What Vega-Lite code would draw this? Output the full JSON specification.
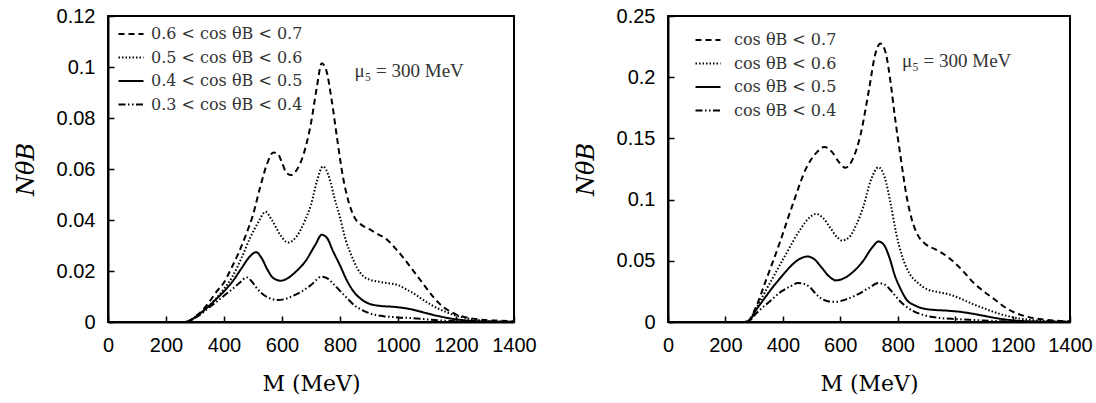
{
  "$schema": "https://vega.github.io/schema/vega-lite/v6.json",
  "background": "white",
  "padding": {"left": 13, "top": 5, "right": 0, "bottom": 0},
  "spacing": 35,
  "config": {
    "view": {"stroke": "black", "strokeWidth": 2},
    "axis": {
      "grid": false,
      "domainColor": "black",
      "domainWidth": 2,
      "tickColor": "black",
      "tickWidth": 1.5,
      "tickSize": -6,
      "labelFont": "Liberation Sans",
      "labelFontSize": 20,
      "labelColor": "black",
      "labelOverlap": false,
      "labelFlush": false,
      "labelExpr": "datum.value + ''",
      "titleColor": "black",
      "titleFont": "DejaVu Serif",
      "titleFontWeight": "normal"
    },
    "legend": {
      "symbolType": "stroke",
      "symbolSize": 625,
      "symbolStrokeWidth": 2.2,
      "symbolStrokeColor": "black",
      "labelFont": "DejaVu Serif",
      "labelFontSize": 16,
      "labelColor": "#333",
      "labelLimit": 400,
      "rowPadding": 1.5,
      "padding": 0
    }
  },
  "resolve": {"scale": {"strokeDash": "independent"}, "legend": {"strokeDash": "independent"}},
  "datasets": {
    "left": [
      {"s": "0.6 < cos θB < 0.7", "M": 0, "N": 0}, {"s": "0.6 < cos θB < 0.7", "M": 260, "N": 0}, {"s": "0.6 < cos θB < 0.7", "M": 280, "N": 0.0005}, {"s": "0.6 < cos θB < 0.7", "M": 300, "N": 0.002}, {"s": "0.6 < cos θB < 0.7", "M": 325, "N": 0.0045}, {"s": "0.6 < cos θB < 0.7", "M": 350, "N": 0.008}, {"s": "0.6 < cos θB < 0.7", "M": 375, "N": 0.012}, {"s": "0.6 < cos θB < 0.7", "M": 400, "N": 0.0155}, {"s": "0.6 < cos θB < 0.7", "M": 425, "N": 0.021}, {"s": "0.6 < cos θB < 0.7", "M": 450, "N": 0.027}, {"s": "0.6 < cos θB < 0.7", "M": 475, "N": 0.034}, {"s": "0.6 < cos θB < 0.7", "M": 500, "N": 0.042}, {"s": "0.6 < cos θB < 0.7", "M": 525, "N": 0.053}, {"s": "0.6 < cos θB < 0.7", "M": 550, "N": 0.0625}, {"s": "0.6 < cos θB < 0.7", "M": 570, "N": 0.0665}, {"s": "0.6 < cos θB < 0.7", "M": 585, "N": 0.066}, {"s": "0.6 < cos θB < 0.7", "M": 600, "N": 0.0625}, {"s": "0.6 < cos θB < 0.7", "M": 615, "N": 0.0585}, {"s": "0.6 < cos θB < 0.7", "M": 630, "N": 0.0576}, {"s": "0.6 < cos θB < 0.7", "M": 650, "N": 0.0595}, {"s": "0.6 < cos θB < 0.7", "M": 675, "N": 0.066}, {"s": "0.6 < cos θB < 0.7", "M": 700, "N": 0.078}, {"s": "0.6 < cos θB < 0.7", "M": 720, "N": 0.092}, {"s": "0.6 < cos θB < 0.7", "M": 737, "N": 0.1015}, {"s": "0.6 < cos θB < 0.7", "M": 752, "N": 0.099}, {"s": "0.6 < cos θB < 0.7", "M": 770, "N": 0.088}, {"s": "0.6 < cos θB < 0.7", "M": 790, "N": 0.072}, {"s": "0.6 < cos θB < 0.7", "M": 810, "N": 0.057}, {"s": "0.6 < cos θB < 0.7", "M": 830, "N": 0.047}, {"s": "0.6 < cos θB < 0.7", "M": 850, "N": 0.041}, {"s": "0.6 < cos θB < 0.7", "M": 875, "N": 0.038}, {"s": "0.6 < cos θB < 0.7", "M": 900, "N": 0.0365}, {"s": "0.6 < cos θB < 0.7", "M": 930, "N": 0.0345}, {"s": "0.6 < cos θB < 0.7", "M": 960, "N": 0.0325}, {"s": "0.6 < cos θB < 0.7", "M": 990, "N": 0.029}, {"s": "0.6 < cos θB < 0.7", "M": 1020, "N": 0.025}, {"s": "0.6 < cos θB < 0.7", "M": 1050, "N": 0.0205}, {"s": "0.6 < cos θB < 0.7", "M": 1080, "N": 0.016}, {"s": "0.6 < cos θB < 0.7", "M": 1110, "N": 0.0115}, {"s": "0.6 < cos θB < 0.7", "M": 1140, "N": 0.0075}, {"s": "0.6 < cos θB < 0.7", "M": 1170, "N": 0.0048}, {"s": "0.6 < cos θB < 0.7", "M": 1200, "N": 0.003}, {"s": "0.6 < cos θB < 0.7", "M": 1250, "N": 0.0015}, {"s": "0.6 < cos θB < 0.7", "M": 1300, "N": 0.0008}, {"s": "0.6 < cos θB < 0.7", "M": 1350, "N": 0.0005}, {"s": "0.6 < cos θB < 0.7", "M": 1400, "N": 0.0003},
      {"s": "0.5 < cos θB < 0.6", "M": 0, "N": 0}, {"s": "0.5 < cos θB < 0.6", "M": 260, "N": 0}, {"s": "0.5 < cos θB < 0.6", "M": 280, "N": 0.0005}, {"s": "0.5 < cos θB < 0.6", "M": 300, "N": 0.002}, {"s": "0.5 < cos θB < 0.6", "M": 325, "N": 0.004}, {"s": "0.5 < cos θB < 0.6", "M": 350, "N": 0.0065}, {"s": "0.5 < cos θB < 0.6", "M": 375, "N": 0.0095}, {"s": "0.5 < cos θB < 0.6", "M": 400, "N": 0.013}, {"s": "0.5 < cos θB < 0.6", "M": 430, "N": 0.018}, {"s": "0.5 < cos θB < 0.6", "M": 460, "N": 0.025}, {"s": "0.5 < cos θB < 0.6", "M": 490, "N": 0.033}, {"s": "0.5 < cos θB < 0.6", "M": 520, "N": 0.0395}, {"s": "0.5 < cos θB < 0.6", "M": 543, "N": 0.0432}, {"s": "0.5 < cos θB < 0.6", "M": 565, "N": 0.04}, {"s": "0.5 < cos θB < 0.6", "M": 595, "N": 0.034}, {"s": "0.5 < cos θB < 0.6", "M": 620, "N": 0.0312}, {"s": "0.5 < cos θB < 0.6", "M": 650, "N": 0.0335}, {"s": "0.5 < cos θB < 0.6", "M": 680, "N": 0.04}, {"s": "0.5 < cos θB < 0.6", "M": 700, "N": 0.046}, {"s": "0.5 < cos θB < 0.6", "M": 720, "N": 0.055}, {"s": "0.5 < cos θB < 0.6", "M": 741, "N": 0.061}, {"s": "0.5 < cos θB < 0.6", "M": 763, "N": 0.0566}, {"s": "0.5 < cos θB < 0.6", "M": 780, "N": 0.049}, {"s": "0.5 < cos θB < 0.6", "M": 800, "N": 0.041}, {"s": "0.5 < cos θB < 0.6", "M": 820, "N": 0.032}, {"s": "0.5 < cos θB < 0.6", "M": 840, "N": 0.026}, {"s": "0.5 < cos θB < 0.6", "M": 860, "N": 0.021}, {"s": "0.5 < cos θB < 0.6", "M": 880, "N": 0.018}, {"s": "0.5 < cos θB < 0.6", "M": 905, "N": 0.0165}, {"s": "0.5 < cos θB < 0.6", "M": 935, "N": 0.0158}, {"s": "0.5 < cos θB < 0.6", "M": 965, "N": 0.0152}, {"s": "0.5 < cos θB < 0.6", "M": 1000, "N": 0.0145}, {"s": "0.5 < cos θB < 0.6", "M": 1025, "N": 0.013}, {"s": "0.5 < cos θB < 0.6", "M": 1050, "N": 0.0115}, {"s": "0.5 < cos θB < 0.6", "M": 1080, "N": 0.0092}, {"s": "0.5 < cos θB < 0.6", "M": 1110, "N": 0.007}, {"s": "0.5 < cos θB < 0.6", "M": 1140, "N": 0.0052}, {"s": "0.5 < cos θB < 0.6", "M": 1170, "N": 0.0037}, {"s": "0.5 < cos θB < 0.6", "M": 1200, "N": 0.0025}, {"s": "0.5 < cos θB < 0.6", "M": 1250, "N": 0.0012}, {"s": "0.5 < cos θB < 0.6", "M": 1300, "N": 0.0005}, {"s": "0.5 < cos θB < 0.6", "M": 1350, "N": 0.0002}, {"s": "0.5 < cos θB < 0.6", "M": 1400, "N": 0.0001},
      {"s": "0.4 < cos θB < 0.5", "M": 0, "N": 0}, {"s": "0.4 < cos θB < 0.5", "M": 260, "N": 0}, {"s": "0.4 < cos θB < 0.5", "M": 280, "N": 0.0004}, {"s": "0.4 < cos θB < 0.5", "M": 300, "N": 0.0018}, {"s": "0.4 < cos θB < 0.5", "M": 325, "N": 0.004}, {"s": "0.4 < cos θB < 0.5", "M": 350, "N": 0.0065}, {"s": "0.4 < cos θB < 0.5", "M": 375, "N": 0.0092}, {"s": "0.4 < cos θB < 0.5", "M": 400, "N": 0.012}, {"s": "0.4 < cos θB < 0.5", "M": 430, "N": 0.016}, {"s": "0.4 < cos θB < 0.5", "M": 460, "N": 0.021}, {"s": "0.4 < cos θB < 0.5", "M": 490, "N": 0.0258}, {"s": "0.4 < cos θB < 0.5", "M": 511, "N": 0.0274}, {"s": "0.4 < cos θB < 0.5", "M": 530, "N": 0.025}, {"s": "0.4 < cos θB < 0.5", "M": 550, "N": 0.0205}, {"s": "0.4 < cos θB < 0.5", "M": 570, "N": 0.0172}, {"s": "0.4 < cos θB < 0.5", "M": 596, "N": 0.0162}, {"s": "0.4 < cos θB < 0.5", "M": 620, "N": 0.0172}, {"s": "0.4 < cos θB < 0.5", "M": 650, "N": 0.02}, {"s": "0.4 < cos θB < 0.5", "M": 680, "N": 0.0237}, {"s": "0.4 < cos θB < 0.5", "M": 715, "N": 0.0303}, {"s": "0.4 < cos θB < 0.5", "M": 737, "N": 0.0342}, {"s": "0.4 < cos θB < 0.5", "M": 755, "N": 0.033}, {"s": "0.4 < cos θB < 0.5", "M": 775, "N": 0.028}, {"s": "0.4 < cos θB < 0.5", "M": 800, "N": 0.0222}, {"s": "0.4 < cos θB < 0.5", "M": 825, "N": 0.016}, {"s": "0.4 < cos θB < 0.5", "M": 850, "N": 0.0115}, {"s": "0.4 < cos θB < 0.5", "M": 875, "N": 0.0088}, {"s": "0.4 < cos θB < 0.5", "M": 900, "N": 0.0072}, {"s": "0.4 < cos θB < 0.5", "M": 940, "N": 0.0063}, {"s": "0.4 < cos θB < 0.5", "M": 980, "N": 0.006}, {"s": "0.4 < cos θB < 0.5", "M": 1020, "N": 0.0055}, {"s": "0.4 < cos θB < 0.5", "M": 1060, "N": 0.0046}, {"s": "0.4 < cos θB < 0.5", "M": 1100, "N": 0.0034}, {"s": "0.4 < cos θB < 0.5", "M": 1140, "N": 0.0023}, {"s": "0.4 < cos θB < 0.5", "M": 1180, "N": 0.0014}, {"s": "0.4 < cos θB < 0.5", "M": 1220, "N": 0.0008}, {"s": "0.4 < cos θB < 0.5", "M": 1260, "N": 0.0004}, {"s": "0.4 < cos θB < 0.5", "M": 1300, "N": 0.0002}, {"s": "0.4 < cos θB < 0.5", "M": 1400, "N": 0.0001},
      {"s": "0.3 < cos θB < 0.4", "M": 0, "N": 0}, {"s": "0.3 < cos θB < 0.4", "M": 260, "N": 0}, {"s": "0.3 < cos θB < 0.4", "M": 280, "N": 0.0004}, {"s": "0.3 < cos θB < 0.4", "M": 300, "N": 0.0016}, {"s": "0.3 < cos θB < 0.4", "M": 325, "N": 0.0035}, {"s": "0.3 < cos θB < 0.4", "M": 350, "N": 0.0058}, {"s": "0.3 < cos θB < 0.4", "M": 375, "N": 0.008}, {"s": "0.3 < cos θB < 0.4", "M": 400, "N": 0.0103}, {"s": "0.3 < cos θB < 0.4", "M": 430, "N": 0.013}, {"s": "0.3 < cos θB < 0.4", "M": 455, "N": 0.0155}, {"s": "0.3 < cos θB < 0.4", "M": 478, "N": 0.0175}, {"s": "0.3 < cos θB < 0.4", "M": 495, "N": 0.016}, {"s": "0.3 < cos θB < 0.4", "M": 515, "N": 0.013}, {"s": "0.3 < cos θB < 0.4", "M": 540, "N": 0.0104}, {"s": "0.3 < cos θB < 0.4", "M": 565, "N": 0.009}, {"s": "0.3 < cos θB < 0.4", "M": 585, "N": 0.0086}, {"s": "0.3 < cos θB < 0.4", "M": 610, "N": 0.009}, {"s": "0.3 < cos θB < 0.4", "M": 635, "N": 0.0101}, {"s": "0.3 < cos θB < 0.4", "M": 665, "N": 0.0118}, {"s": "0.3 < cos θB < 0.4", "M": 700, "N": 0.0145}, {"s": "0.3 < cos θB < 0.4", "M": 737, "N": 0.0178}, {"s": "0.3 < cos θB < 0.4", "M": 755, "N": 0.0172}, {"s": "0.3 < cos θB < 0.4", "M": 775, "N": 0.0152}, {"s": "0.3 < cos θB < 0.4", "M": 800, "N": 0.0122}, {"s": "0.3 < cos θB < 0.4", "M": 825, "N": 0.0093}, {"s": "0.3 < cos θB < 0.4", "M": 850, "N": 0.0065}, {"s": "0.3 < cos θB < 0.4", "M": 880, "N": 0.0045}, {"s": "0.3 < cos θB < 0.4", "M": 910, "N": 0.0031}, {"s": "0.3 < cos θB < 0.4", "M": 950, "N": 0.0023}, {"s": "0.3 < cos θB < 0.4", "M": 1000, "N": 0.0018}, {"s": "0.3 < cos θB < 0.4", "M": 1050, "N": 0.0015}, {"s": "0.3 < cos θB < 0.4", "M": 1100, "N": 0.001}, {"s": "0.3 < cos θB < 0.4", "M": 1150, "N": 0.0006}, {"s": "0.3 < cos θB < 0.4", "M": 1200, "N": 0.0003}, {"s": "0.3 < cos θB < 0.4", "M": 1250, "N": 0.0001}, {"s": "0.3 < cos θB < 0.4", "M": 1400, "N": 0}
    ],
    "right": [
      {"s": "cos θB < 0.7", "M": 0, "N": 0}, {"s": "cos θB < 0.7", "M": 260, "N": 0}, {"s": "cos θB < 0.7", "M": 280, "N": 0.001}, {"s": "cos θB < 0.7", "M": 306, "N": 0.012}, {"s": "cos θB < 0.7", "M": 341, "N": 0.034}, {"s": "cos θB < 0.7", "M": 388, "N": 0.064}, {"s": "cos θB < 0.7", "M": 435, "N": 0.0965}, {"s": "cos θB < 0.7", "M": 482, "N": 0.126}, {"s": "cos θB < 0.7", "M": 518, "N": 0.1386}, {"s": "cos θB < 0.7", "M": 544, "N": 0.143}, {"s": "cos θB < 0.7", "M": 571, "N": 0.139}, {"s": "cos θB < 0.7", "M": 594, "N": 0.131}, {"s": "cos θB < 0.7", "M": 618, "N": 0.126}, {"s": "cos θB < 0.7", "M": 641, "N": 0.132}, {"s": "cos θB < 0.7", "M": 671, "N": 0.1535}, {"s": "cos θB < 0.7", "M": 700, "N": 0.19}, {"s": "cos θB < 0.7", "M": 722, "N": 0.219}, {"s": "cos θB < 0.7", "M": 740, "N": 0.2275}, {"s": "cos θB < 0.7", "M": 758, "N": 0.22}, {"s": "cos θB < 0.7", "M": 775, "N": 0.196}, {"s": "cos θB < 0.7", "M": 790, "N": 0.168}, {"s": "cos θB < 0.7", "M": 810, "N": 0.135}, {"s": "cos θB < 0.7", "M": 830, "N": 0.104}, {"s": "cos θB < 0.7", "M": 850, "N": 0.083}, {"s": "cos θB < 0.7", "M": 870, "N": 0.071}, {"s": "cos θB < 0.7", "M": 895, "N": 0.064}, {"s": "cos θB < 0.7", "M": 930, "N": 0.0595}, {"s": "cos θB < 0.7", "M": 960, "N": 0.0555}, {"s": "cos θB < 0.7", "M": 1000, "N": 0.048}, {"s": "cos θB < 0.7", "M": 1030, "N": 0.041}, {"s": "cos θB < 0.7", "M": 1060, "N": 0.033}, {"s": "cos θB < 0.7", "M": 1100, "N": 0.025}, {"s": "cos θB < 0.7", "M": 1140, "N": 0.018}, {"s": "cos θB < 0.7", "M": 1180, "N": 0.011}, {"s": "cos θB < 0.7", "M": 1220, "N": 0.0065}, {"s": "cos θB < 0.7", "M": 1260, "N": 0.0038}, {"s": "cos θB < 0.7", "M": 1300, "N": 0.0022}, {"s": "cos θB < 0.7", "M": 1350, "N": 0.0011}, {"s": "cos θB < 0.7", "M": 1400, "N": 0.0005},
      {"s": "cos θB < 0.6", "M": 0, "N": 0}, {"s": "cos θB < 0.6", "M": 260, "N": 0}, {"s": "cos θB < 0.6", "M": 280, "N": 0.0008}, {"s": "cos θB < 0.6", "M": 306, "N": 0.011}, {"s": "cos θB < 0.6", "M": 353, "N": 0.031}, {"s": "cos θB < 0.6", "M": 412, "N": 0.056}, {"s": "cos θB < 0.6", "M": 459, "N": 0.075}, {"s": "cos θB < 0.6", "M": 494, "N": 0.0856}, {"s": "cos θB < 0.6", "M": 515, "N": 0.0883}, {"s": "cos θB < 0.6", "M": 540, "N": 0.085}, {"s": "cos θB < 0.6", "M": 565, "N": 0.077}, {"s": "cos θB < 0.6", "M": 590, "N": 0.069}, {"s": "cos θB < 0.6", "M": 606, "N": 0.0666}, {"s": "cos θB < 0.6", "M": 630, "N": 0.069}, {"s": "cos θB < 0.6", "M": 655, "N": 0.079}, {"s": "cos θB < 0.6", "M": 680, "N": 0.094}, {"s": "cos θB < 0.6", "M": 706, "N": 0.1155}, {"s": "cos θB < 0.6", "M": 733, "N": 0.1264}, {"s": "cos θB < 0.6", "M": 755, "N": 0.118}, {"s": "cos θB < 0.6", "M": 775, "N": 0.097}, {"s": "cos θB < 0.6", "M": 795, "N": 0.072}, {"s": "cos θB < 0.6", "M": 815, "N": 0.054}, {"s": "cos θB < 0.6", "M": 840, "N": 0.04}, {"s": "cos θB < 0.6", "M": 870, "N": 0.032}, {"s": "cos θB < 0.6", "M": 900, "N": 0.027}, {"s": "cos θB < 0.6", "M": 940, "N": 0.0245}, {"s": "cos θB < 0.6", "M": 980, "N": 0.0225}, {"s": "cos θB < 0.6", "M": 1020, "N": 0.019}, {"s": "cos θB < 0.6", "M": 1060, "N": 0.0148}, {"s": "cos θB < 0.6", "M": 1100, "N": 0.0112}, {"s": "cos θB < 0.6", "M": 1140, "N": 0.0078}, {"s": "cos θB < 0.6", "M": 1180, "N": 0.005}, {"s": "cos θB < 0.6", "M": 1220, "N": 0.003}, {"s": "cos θB < 0.6", "M": 1260, "N": 0.0018}, {"s": "cos θB < 0.6", "M": 1300, "N": 0.001}, {"s": "cos θB < 0.6", "M": 1350, "N": 0.0005}, {"s": "cos θB < 0.6", "M": 1400, "N": 0.0002},
      {"s": "cos θB < 0.5", "M": 0, "N": 0}, {"s": "cos θB < 0.5", "M": 260, "N": 0}, {"s": "cos θB < 0.5", "M": 280, "N": 0.0006}, {"s": "cos θB < 0.5", "M": 306, "N": 0.0095}, {"s": "cos θB < 0.5", "M": 335, "N": 0.019}, {"s": "cos θB < 0.5", "M": 365, "N": 0.0285}, {"s": "cos θB < 0.5", "M": 395, "N": 0.037}, {"s": "cos θB < 0.5", "M": 424, "N": 0.0448}, {"s": "cos θB < 0.5", "M": 459, "N": 0.0516}, {"s": "cos θB < 0.5", "M": 485, "N": 0.0535}, {"s": "cos θB < 0.5", "M": 510, "N": 0.0512}, {"s": "cos θB < 0.5", "M": 535, "N": 0.0445}, {"s": "cos θB < 0.5", "M": 560, "N": 0.0375}, {"s": "cos θB < 0.5", "M": 585, "N": 0.034}, {"s": "cos θB < 0.5", "M": 615, "N": 0.036}, {"s": "cos θB < 0.5", "M": 645, "N": 0.041}, {"s": "cos θB < 0.5", "M": 675, "N": 0.0485}, {"s": "cos θB < 0.5", "M": 712, "N": 0.0611}, {"s": "cos θB < 0.5", "M": 733, "N": 0.0658}, {"s": "cos θB < 0.5", "M": 752, "N": 0.063}, {"s": "cos θB < 0.5", "M": 772, "N": 0.052}, {"s": "cos θB < 0.5", "M": 790, "N": 0.038}, {"s": "cos θB < 0.5", "M": 810, "N": 0.027}, {"s": "cos θB < 0.5", "M": 830, "N": 0.0185}, {"s": "cos θB < 0.5", "M": 860, "N": 0.0135}, {"s": "cos θB < 0.5", "M": 890, "N": 0.011}, {"s": "cos θB < 0.5", "M": 930, "N": 0.0098}, {"s": "cos θB < 0.5", "M": 970, "N": 0.0093}, {"s": "cos θB < 0.5", "M": 1010, "N": 0.0085}, {"s": "cos θB < 0.5", "M": 1050, "N": 0.0072}, {"s": "cos θB < 0.5", "M": 1090, "N": 0.0055}, {"s": "cos θB < 0.5", "M": 1130, "N": 0.0037}, {"s": "cos θB < 0.5", "M": 1170, "N": 0.0022}, {"s": "cos θB < 0.5", "M": 1210, "N": 0.0012}, {"s": "cos θB < 0.5", "M": 1250, "N": 0.0006}, {"s": "cos θB < 0.5", "M": 1300, "N": 0.0003}, {"s": "cos θB < 0.5", "M": 1400, "N": 0.0001},
      {"s": "cos θB < 0.4", "M": 0, "N": 0}, {"s": "cos θB < 0.4", "M": 260, "N": 0}, {"s": "cos θB < 0.4", "M": 280, "N": 0.0005}, {"s": "cos θB < 0.4", "M": 306, "N": 0.0068}, {"s": "cos θB < 0.4", "M": 335, "N": 0.013}, {"s": "cos θB < 0.4", "M": 365, "N": 0.019}, {"s": "cos θB < 0.4", "M": 395, "N": 0.025}, {"s": "cos θB < 0.4", "M": 425, "N": 0.029}, {"s": "cos θB < 0.4", "M": 453, "N": 0.0318}, {"s": "cos θB < 0.4", "M": 475, "N": 0.031}, {"s": "cos θB < 0.4", "M": 494, "N": 0.0285}, {"s": "cos θB < 0.4", "M": 515, "N": 0.023}, {"s": "cos θB < 0.4", "M": 535, "N": 0.019}, {"s": "cos θB < 0.4", "M": 560, "N": 0.0168}, {"s": "cos θB < 0.4", "M": 585, "N": 0.0165}, {"s": "cos θB < 0.4", "M": 620, "N": 0.0185}, {"s": "cos θB < 0.4", "M": 660, "N": 0.0225}, {"s": "cos θB < 0.4", "M": 700, "N": 0.0278}, {"s": "cos θB < 0.4", "M": 733, "N": 0.0318}, {"s": "cos θB < 0.4", "M": 755, "N": 0.0305}, {"s": "cos θB < 0.4", "M": 776, "N": 0.0258}, {"s": "cos θB < 0.4", "M": 800, "N": 0.019}, {"s": "cos θB < 0.4", "M": 824, "N": 0.0136}, {"s": "cos θB < 0.4", "M": 850, "N": 0.0095}, {"s": "cos θB < 0.4", "M": 882, "N": 0.0063}, {"s": "cos θB < 0.4", "M": 910, "N": 0.0045}, {"s": "cos θB < 0.4", "M": 950, "N": 0.0032}, {"s": "cos θB < 0.4", "M": 1000, "N": 0.0024}, {"s": "cos θB < 0.4", "M": 1050, "N": 0.0018}, {"s": "cos θB < 0.4", "M": 1100, "N": 0.0012}, {"s": "cos θB < 0.4", "M": 1150, "N": 0.0007}, {"s": "cos θB < 0.4", "M": 1200, "N": 0.0004}, {"s": "cos θB < 0.4", "M": 1250, "N": 0.0002}, {"s": "cos θB < 0.4", "M": 1400, "N": 0}
    ]
  },
  "hconcat": [
    {
      "width": 406,
      "height": 306,
      "layer": [
        {
          "data": {"name": "left"},
          "mark": {"type": "line", "color": "black", "strokeWidth": 2, "interpolate": "monotone", "clip": true},
          "encoding": {
            "x": {"field": "M", "type": "quantitative", "scale": {"domain": [0, 1400], "nice": false},
              "axis": {"values": [0, 200, 400, 600, 800, 1000, 1200, 1400], "title": "M (MeV)", "titleFontSize": 22, "titlePadding": 18, "labelPadding": 19}},
            "y": {"field": "N", "type": "quantitative", "scale": {"domain": [0, 0.12], "nice": false},
              "axis": {"values": [0, 0.02, 0.04, 0.06, 0.08, 0.1, 0.12], "title": "NθB", "titleFontSize": 24, "titleFontStyle": "italic", "titlePadding": 18, "labelPadding": 19}},
            "strokeDash": {"field": "s", "type": "nominal",
              "scale": {"domain": ["0.6 < cos θB < 0.7", "0.5 < cos θB < 0.6", "0.4 < cos θB < 0.5", "0.3 < cos θB < 0.4"],
                "range": [[6, 4], [1.5, 2], [1, 0], [7, 2.5, 1.5, 2.5, 1.5, 2.5]]},
              "legend": {"title": null, "orient": "none", "legendX": 9, "legendY": 4, "labelOffset": 6}}
          }
        },
        {
          "data": {"values": [{"label": "μ₅ = 300 MeV"}]},
          "mark": {"type": "text", "font": "Liberation Serif", "fontSize": 19, "fill": "#333", "align": "left", "baseline": "middle"},
          "encoding": {"text": {"field": "label"}, "x": {"datum": 850, "type": "quantitative"}, "y": {"datum": 0.0985, "type": "quantitative"}}
        }
      ]
    },
    {
      "width": 402,
      "height": 306,
      "layer": [
        {
          "data": {"name": "right"},
          "mark": {"type": "line", "color": "black", "strokeWidth": 2, "interpolate": "monotone", "clip": true},
          "encoding": {
            "x": {"field": "M", "type": "quantitative", "scale": {"domain": [0, 1400], "nice": false},
              "axis": {"values": [0, 200, 400, 600, 800, 1000, 1200, 1400], "title": "M (MeV)", "titleFontSize": 22, "titlePadding": 18, "labelPadding": 19}},
            "y": {"field": "N", "type": "quantitative", "scale": {"domain": [0, 0.25], "nice": false},
              "axis": {"values": [0, 0.05, 0.1, 0.15, 0.2, 0.25], "title": "NθB", "titleFontSize": 24, "titleFontStyle": "italic", "titlePadding": 18, "labelPadding": 19}},
            "strokeDash": {"field": "s", "type": "nominal",
              "scale": {"domain": ["cos θB < 0.7", "cos θB < 0.6", "cos θB < 0.5", "cos θB < 0.4"],
                "range": [[6, 4], [1.5, 2], [1, 0], [7, 2.5, 1.5, 2.5, 1.5, 2.5]]},
              "legend": {"title": null, "orient": "none", "legendX": 26, "legendY": 10, "labelOffset": 12}}
          }
        },
        {
          "data": {"values": [{"label": "μ₅ = 300 MeV"}]},
          "mark": {"type": "text", "font": "Liberation Serif", "fontSize": 19, "fill": "#333", "align": "left", "baseline": "middle"},
          "encoding": {"text": {"field": "label"}, "x": {"datum": 815, "type": "quantitative"}, "y": {"datum": 0.213, "type": "quantitative"}}
        }
      ]
    }
  ]
}
